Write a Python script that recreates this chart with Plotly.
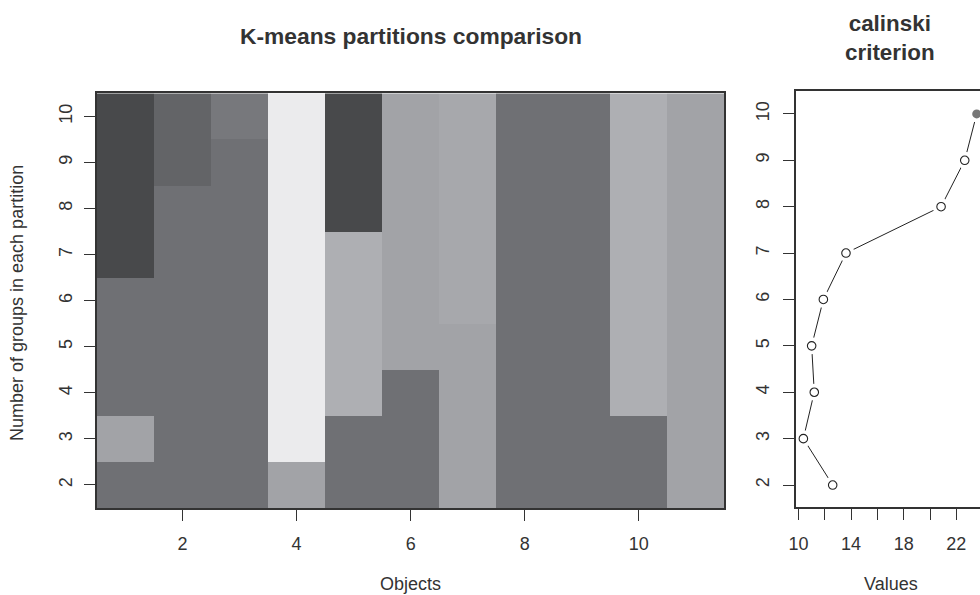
import plotly.graph_objects as go

# ---------------- data ----------------
objects = list(range(1, 12))            # objects 1..11
groups = list(range(2, 11))             # number of groups k = 2..10

# shade code of each cell: rows = k (2..10), columns = objects (1..11)
shade_k2 = [2, 2, 2, 4, 2, 2, 4, 2, 2, 2, 4]
shade_k3 = [4, 2, 2, 7, 2, 2, 4, 2, 2, 2, 4]
shade_k4 = [2, 2, 2, 7, 6, 2, 4, 2, 2, 6, 4]
shade_k5 = [2, 2, 2, 7, 6, 4, 4, 2, 2, 6, 4]
shade_k6 = [2, 2, 2, 7, 6, 4, 5, 2, 2, 6, 4]
shade_k7 = [0, 2, 2, 7, 6, 4, 5, 2, 2, 6, 4]
shade_k8 = [0, 2, 2, 7, 0, 4, 5, 2, 2, 6, 4]
shade_k9 = [0, 1, 2, 7, 0, 4, 5, 2, 2, 6, 4]
shade_k10 = [0, 1, 3, 7, 0, 4, 5, 2, 2, 6, 4]
shades = [shade_k2, shade_k3, shade_k4, shade_k5, shade_k6,
          shade_k7, shade_k8, shade_k9, shade_k10]

grey_palette = ["#48494b", "#636467", "#6f7074", "#77787c",
                "#a2a3a7", "#a7a8ac", "#aeafb3", "#ebebed"]

calinski_values = [12.6, 10.37, 11.2, 11.0, 11.89, 13.61, 20.84, 22.64, 23.55]

x_ticks_left = [2, 4, 6, 8, 10]
y_ticks = groups
x_ticks_right = [10, 12, 14, 16, 18, 20, 22]
x_ticktext_right = ["10", "", "14", "", "18", "", "22"]

# ---------------- layout helpers ----------------
W, H = 980, 595
def px(x):
    return x / W
def py(y):
    return (H - y) / H

FONT = "Liberation Sans, Arial, Helvetica, sans-serif"
TXT = "#333333"
LINE = "#333333"

# discrete colour scale
n = len(grey_palette)
colorscale = []
for i, c in enumerate(grey_palette):
    colorscale.append([i / n, c])
    colorscale.append([(i + 1) / n, c])

fig = go.Figure()

fig.add_trace(go.Heatmap(
    x=objects, y=groups, z=shades,
    colorscale=colorscale, zmin=-0.5, zmax=n - 0.5,
    showscale=False, xaxis="x", yaxis="y", hoverinfo="skip",
))

imax = max(range(len(calinski_values)), key=lambda i: calinski_values[i])
others_x = [v for i, v in enumerate(calinski_values) if i != imax]
others_y = [g for i, g in enumerate(groups) if i != imax]

fig.add_trace(go.Scatter(
    x=calinski_values, y=groups, mode="lines",
    line=dict(color="#222222", width=1), xaxis="x2", yaxis="y2",
    hoverinfo="skip", showlegend=False,
))
# white halos give the gaps between line and points
fig.add_trace(go.Scatter(
    x=calinski_values, y=groups, mode="markers",
    marker=dict(size=17, color="white", line=dict(width=0)),
    xaxis="x2", yaxis="y2", hoverinfo="skip", showlegend=False, cliponaxis=False,
))
fig.add_trace(go.Scatter(
    x=others_x, y=others_y, mode="markers",
    marker=dict(size=8.5, color="white", line=dict(width=1.1, color="#222222")),
    xaxis="x2", yaxis="y2", showlegend=False, cliponaxis=False,
))
fig.add_trace(go.Scatter(
    x=[calinski_values[imax]], y=[groups[imax]], mode="markers",
    marker=dict(size=9, color="#777777", line=dict(width=0)),
    xaxis="x2", yaxis="y2", showlegend=False, cliponaxis=False,
))

axis_common = dict(
    showgrid=False, zeroline=False, showline=True, linecolor=LINE, linewidth=1.5,
    ticks="outside", ticklen=11, tickcolor=LINE, tickwidth=1,
    tickfont=dict(family=FONT, size=18, color=TXT), automargin=False,
)

fig.update_layout(
    width=W, height=H, margin=dict(l=0, r=0, t=0, b=0),
    paper_bgcolor="white", plot_bgcolor="white", showlegend=False,
    xaxis=dict(axis_common, domain=[px(97), px(724.3)], range=[0.5, 11.5],
               tickvals=x_ticks_left, mirror=True, anchor="y",
               ticklabelstandoff=8),
    yaxis=dict(axis_common, domain=[py(508), py(93.3)], range=[1.5, 10.5],
               tickvals=y_ticks, mirror=True, anchor="x", tickangle=-90,
               ticklabelstandoff=5),
    xaxis2=dict(axis_common, domain=[px(796), 1.0], range=[9.81, 23.80],
                tickvals=x_ticks_right, ticktext=x_ticktext_right,
                mirror=True, anchor="y2", ticklabelstandoff=8),
    yaxis2=dict(axis_common, domain=[py(507.3), py(90.7)], range=[1.52, 10.5],
                tickvals=y_ticks, mirror=False, anchor="x2", tickangle=-90,
                ticklabelstandoff=7),
)

def ann(text, x, y, size=18, bold=False, angle=0):
    fig.add_annotation(
        text=f"<b>{text}</b>" if bold else text,
        x=px(x), y=py(y), xref="paper", yref="paper",
        xanchor="center", yanchor="middle", showarrow=False, textangle=angle,
        font=dict(family=FONT, size=size, color=TXT),
    )

ann("K-means partitions comparison", 410.5, 36, size=22.8, bold=True)
ann("calinski<br>criterion", 890, 38, size=22.4, bold=True)
ann("Objects", 410.5, 584)
ann("Values", 890.5, 584)
ann("Number of groups in each partition", 17, 303, angle=-90)

fig.write_html("out.html")
